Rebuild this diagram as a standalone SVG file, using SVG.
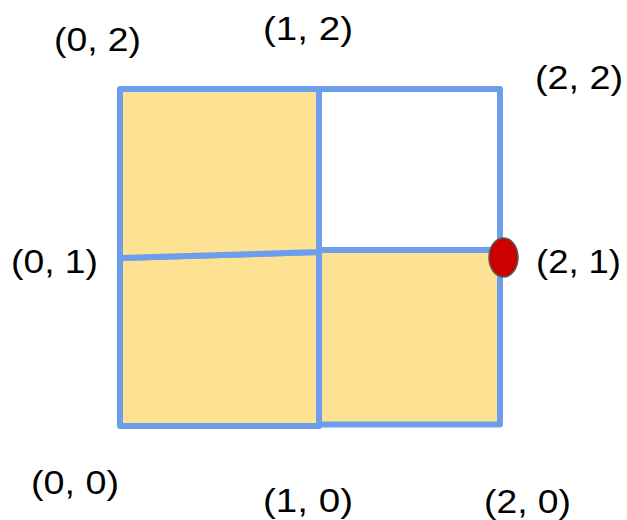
<svg xmlns="http://www.w3.org/2000/svg" width="627" height="520" viewBox="0 0 627 520">
<style>
.cell{stroke:#6d9eeb;stroke-width:6;stroke-linejoin:round}
.y{fill:#fde293}
.w{fill:#ffffff}
.lbl{font-family:"Liberation Sans",Arial,sans-serif;font-size:33px;fill:#000}
</style>
<rect width="627" height="520" fill="#ffffff"/>
<g id="cell-top-right"><polygon class="cell w" points="319,89 500,89 500,250 319,250"/></g>
<g id="cell-bottom-right"><polygon class="cell y" points="319,250 500,250 500,424.5 319,424.5"/></g>
<g id="cell-bottom-left"><polygon class="cell y" points="120,258 319,252 319,426 120,426"/></g>
<g id="cell-top-left"><polygon class="cell y" points="120,89 319,89 319,252 120,258"/></g>
<g id="marker-2-1"><ellipse cx="503.5" cy="257.5" rx="14.5" ry="19.5" fill="#cc0000" stroke="#595959" stroke-width="1.5"/></g>
<g id="labels">
<text class="lbl" x="54" y="51" textLength="87" lengthAdjust="spacingAndGlyphs">(0, 2)</text>
<text class="lbl" x="263" y="40" textLength="90" lengthAdjust="spacingAndGlyphs">(1, 2)</text>
<text class="lbl" x="535" y="89" textLength="88" lengthAdjust="spacingAndGlyphs">(2, 2)</text>
<text class="lbl" x="11" y="273" textLength="87" lengthAdjust="spacingAndGlyphs">(0, 1)</text>
<text class="lbl" x="536" y="273" textLength="85" lengthAdjust="spacingAndGlyphs">(2, 1)</text>
<text class="lbl" x="31" y="494" textLength="88" lengthAdjust="spacingAndGlyphs">(0, 0)</text>
<text class="lbl" x="263" y="512" textLength="90" lengthAdjust="spacingAndGlyphs">(1, 0)</text>
<text class="lbl" x="484" y="513" textLength="87" lengthAdjust="spacingAndGlyphs">(2, 0)</text>
</g>
</svg>
